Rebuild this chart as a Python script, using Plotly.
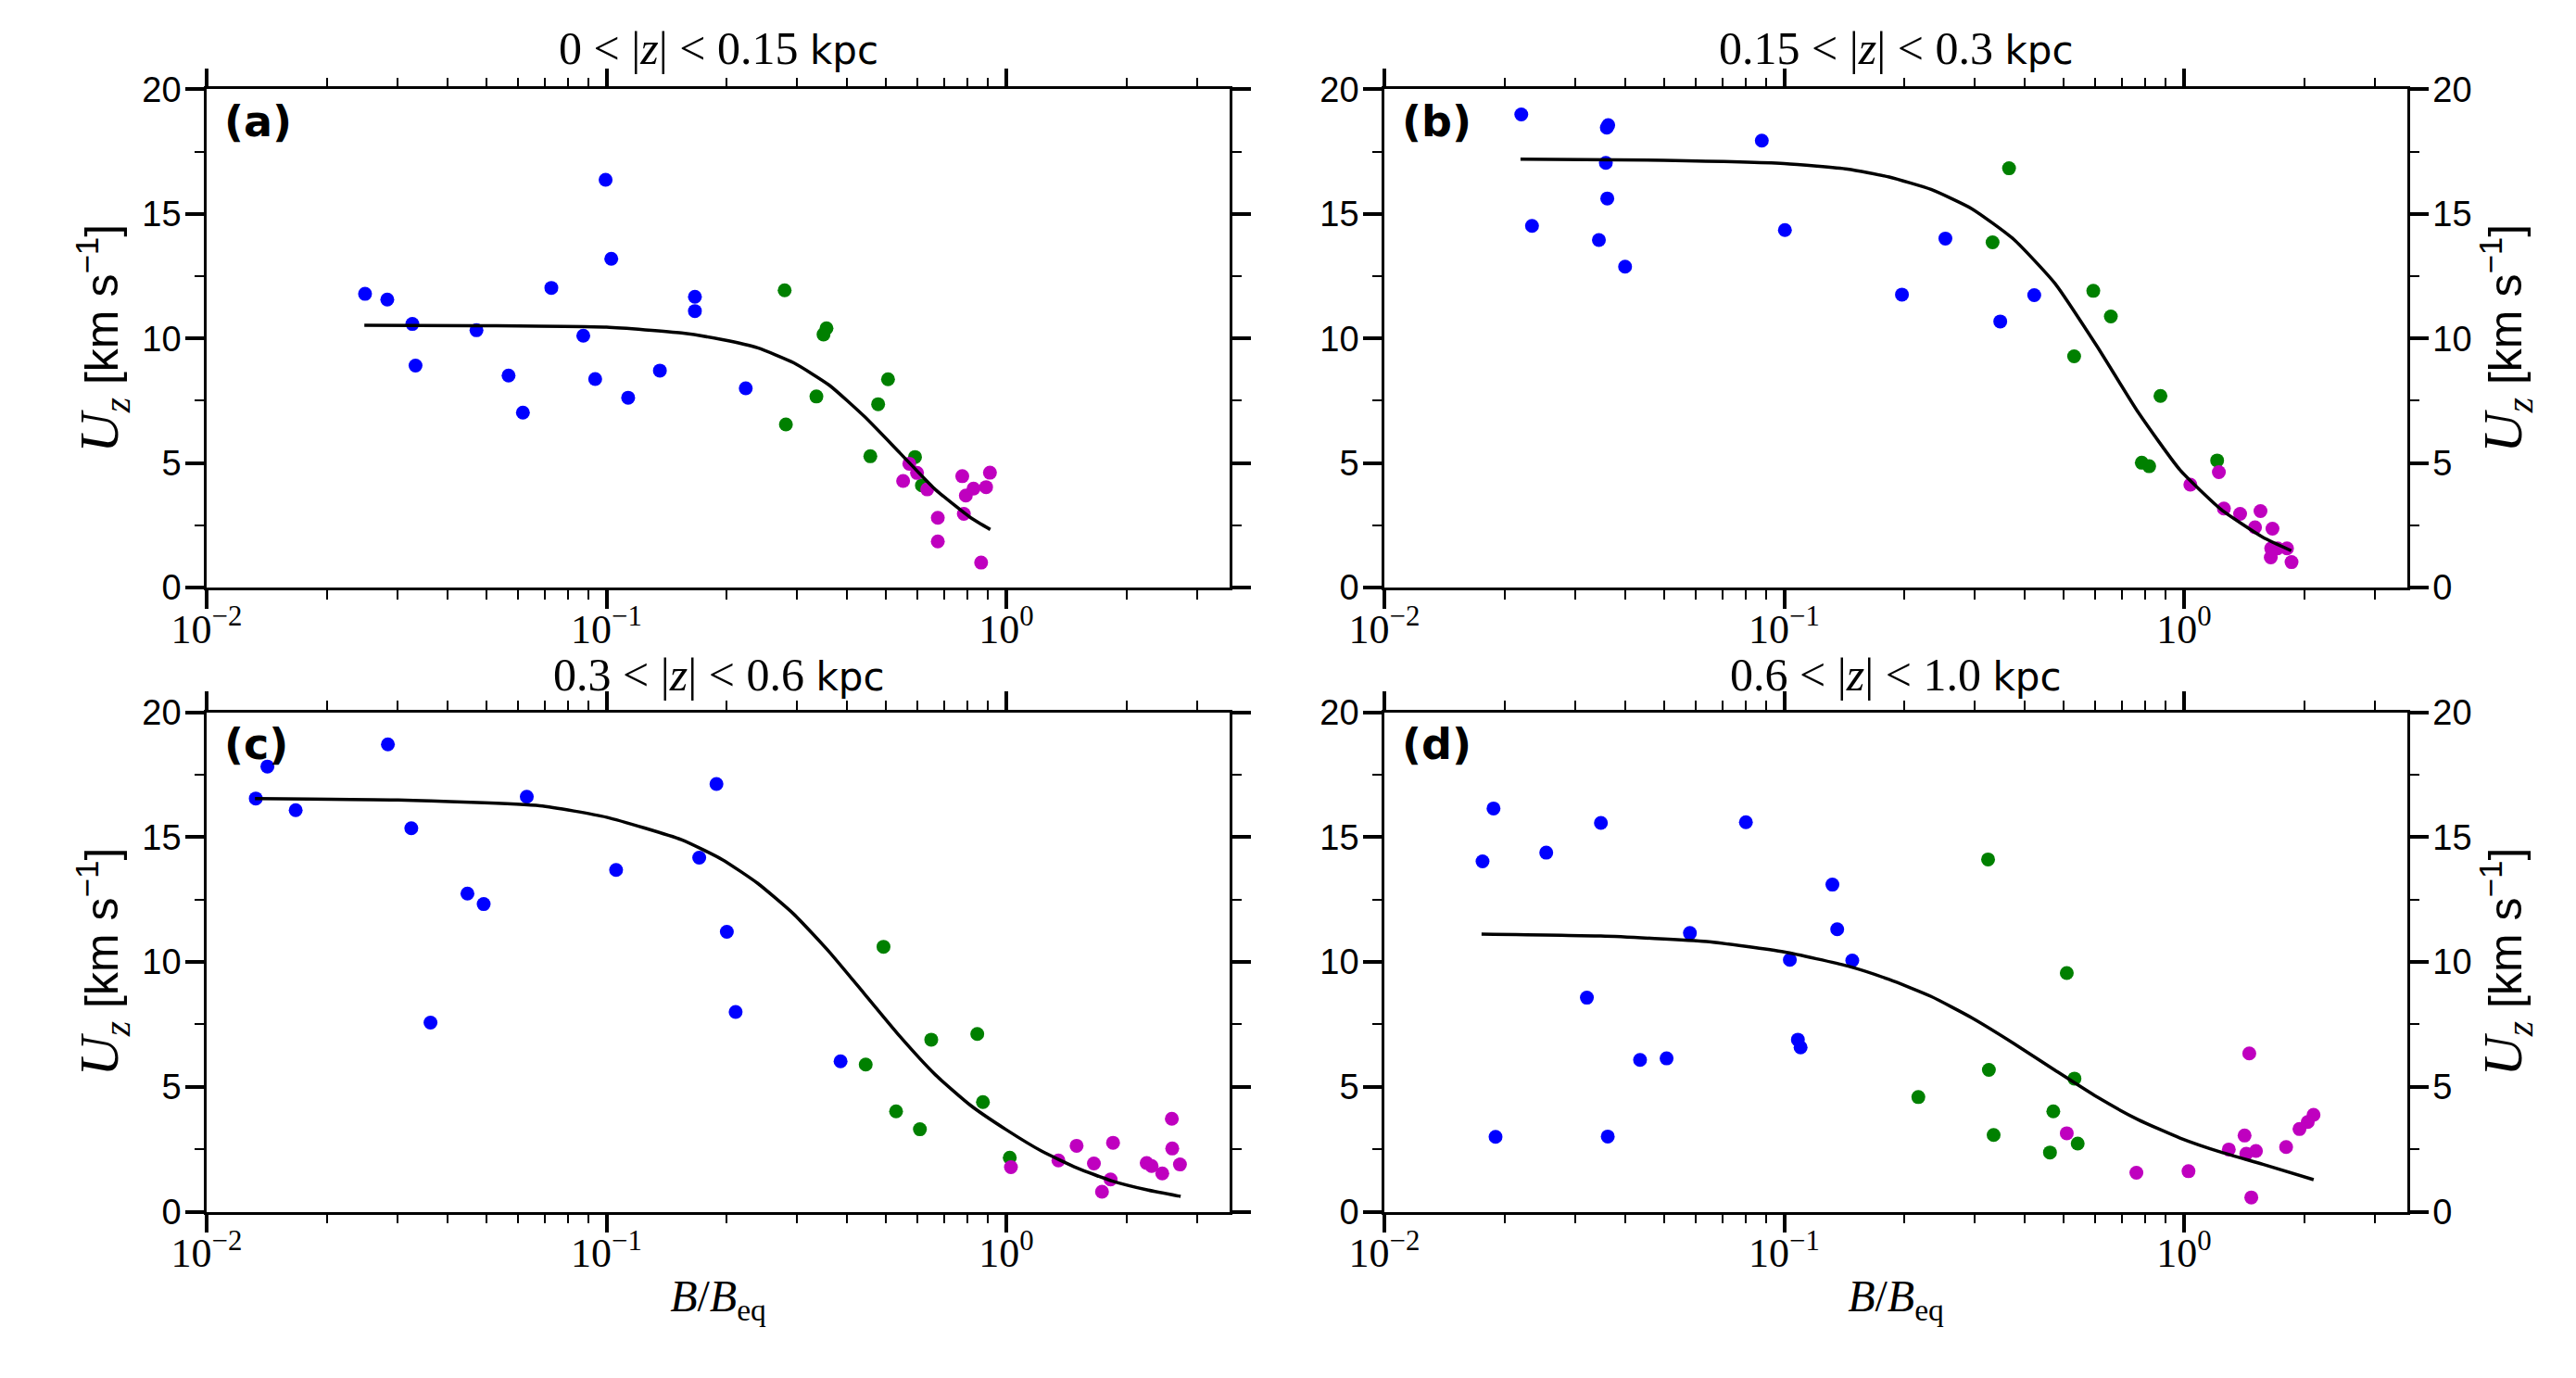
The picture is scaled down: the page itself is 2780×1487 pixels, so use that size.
import plotly.graph_objects as go

# ---------------- data ----------------
titles = ["0 &lt; |<i>z</i>| &lt; 0.15", "0.15 &lt; |<i>z</i>| &lt; 0.3",
          "0.3 &lt; |<i>z</i>| &lt; 0.6", "0.6 &lt; |<i>z</i>| &lt; 1.0"]
panel_tags = ["(a)", "(b)", "(c)", "(d)"]

a_blue_x = [0.0249, 0.0283, 0.0327, 0.0333, 0.0473, 0.0569, 0.0618, 0.0728, 0.0875, 0.0937, 0.0995, 0.1028, 0.1133, 0.136, 0.1664, 0.1664, 0.223]
a_blue_y = [11.79, 11.56, 10.58, 8.91, 10.33, 8.51, 7.02, 12.03, 10.11, 8.37, 16.37, 13.20, 7.62, 8.71, 11.67, 11.10, 8.0]
a_green_x = [0.279, 0.281, 0.335, 0.349, 0.355, 0.457, 0.478, 0.506, 0.591, 0.615]
a_green_y = [11.93, 6.55, 7.67, 10.16, 10.41, 5.27, 7.36, 8.36, 5.24, 4.10]
a_mag_x = [0.552, 0.572, 0.598, 0.634, 0.674, 0.674, 0.776, 0.783, 0.792, 0.828, 0.865, 0.890, 0.910]
a_mag_y = [4.28, 4.97, 4.60, 3.94, 2.80, 1.85, 4.47, 2.96, 3.69, 3.97, 1.00, 4.03, 4.61]
a_fit_x = [0.0248, 0.05, 0.1, 0.154, 0.195, 0.239, 0.294, 0.361, 0.442, 0.542, 0.665, 0.815, 0.912]
a_fit_y = [10.53, 10.51, 10.45, 10.22, 9.95, 9.62, 9.02, 8.12, 6.86, 5.40, 3.93, 2.80, 2.33]

b_blue_x = [0.0220, 0.0234, 0.0344, 0.0358, 0.0360, 0.0363, 0.0361, 0.040, 0.0879, 0.1004, 0.197, 0.253, 0.347, 0.422]
b_blue_y = [18.99, 14.52, 13.95, 17.05, 18.46, 18.56, 15.62, 12.88, 17.94, 14.35, 11.76, 14.01, 10.68, 11.74]
b_green_x = [0.332, 0.365, 0.531, 0.593, 0.656, 0.784, 0.818, 0.873, 1.21]
b_green_y = [13.86, 16.83, 9.28, 11.91, 10.88, 5.01, 4.87, 7.69, 5.10]
b_mag_x = [1.037, 1.222, 1.258, 1.381, 1.553, 1.505, 1.664, 1.652, 1.713, 1.648, 1.809, 1.857]
b_mag_y = [4.13, 4.63, 3.17, 2.96, 3.07, 2.42, 2.36, 1.57, 1.57, 1.21, 1.57, 1.02]
b_fit_x = [0.0219, 0.05, 0.1, 0.144, 0.183, 0.233, 0.295, 0.375, 0.476, 0.605, 0.769, 0.977, 1.239, 1.574, 1.854]
b_fit_y = [17.20, 17.15, 17.02, 16.8, 16.48, 15.98, 15.20, 13.98, 12.20, 9.70, 7.02, 4.72, 3.13, 2.02, 1.48]

c_blue_x = [0.01327, 0.01419, 0.0167, 0.0284, 0.0325, 0.0363, 0.0449, 0.0493, 0.0632, 0.1057, 0.1706, 0.1884, 0.200, 0.2104, 0.385]
c_blue_y = [16.55, 17.83, 16.08, 18.72, 15.36, 7.57, 12.74, 12.32, 16.62, 13.69, 14.18, 17.13, 11.21, 8.00, 6.02]
c_green_x = [0.445, 0.493, 0.530, 0.608, 0.649, 0.846, 0.874, 1.02]
c_green_y = [5.89, 10.61, 4.02, 3.30, 6.89, 7.12, 4.39, 2.16]
c_mag_x = [1.027, 1.350, 1.499, 1.656, 1.735, 1.823, 1.849, 2.244, 2.309, 2.455, 2.594, 2.600, 2.718]
c_mag_y = [1.78, 2.05, 2.64, 1.93, 0.80, 1.29, 2.76, 1.95, 1.83, 1.53, 3.72, 2.53, 1.89]
c_fit_x = [0.01321, 0.0301, 0.0681, 0.1, 0.154, 0.195, 0.239, 0.294, 0.361, 0.442, 0.542, 0.665, 0.815, 1.0, 1.227, 1.503, 1.845, 2.265, 2.729]
c_fit_y = [16.55, 16.49, 16.26, 15.80, 14.90, 14.10, 13.15, 11.92, 10.40, 8.72, 7.02, 5.48, 4.25, 3.28, 2.42, 1.75, 1.22, 0.86, 0.61]

d_blue_x = [0.0176, 0.01875, 0.01897, 0.0254, 0.0321, 0.0348, 0.0362, 0.0436, 0.0508, 0.0581, 0.0802, 0.1033, 0.1082, 0.1099, 0.132, 0.1357, 0.148]
d_blue_y = [14.03, 16.15, 3.00, 14.38, 8.57, 15.57, 3.01, 6.08, 6.14, 11.16, 15.60, 10.09, 6.89, 6.58, 13.10, 11.31, 10.06]
d_green_x = [0.2165, 0.3235, 0.325, 0.334, 0.462, 0.471, 0.509, 0.532, 0.542]
d_green_y = [4.59, 14.11, 5.68, 3.07, 2.37, 4.02, 9.56, 5.33, 2.73]
d_mag_x = [0.509, 0.760, 1.026, 1.294, 1.417, 1.431, 1.456, 1.473, 1.513, 1.800, 1.944, 2.039, 2.108]
d_mag_y = [3.14, 1.56, 1.62, 2.49, 3.05, 2.32, 6.34, 0.57, 2.43, 2.59, 3.31, 3.59, 3.88]
d_fit_x = [0.0175, 0.0348, 0.064, 0.1, 0.144, 0.183, 0.233, 0.295, 0.375, 0.476, 0.605, 0.769, 0.977, 1.239, 1.574, 2.109]
d_fit_y = [11.12, 11.04, 10.82, 10.40, 9.84, 9.30, 8.62, 7.76, 6.74, 5.66, 4.60, 3.68, 2.95, 2.38, 1.90, 1.28]

x_tickvals = [0.01, 0.1, 1]
x_ticktext = ["10<sup>\u22122</sup>", "10<sup>\u22121</sup>", "10<sup>0</sup>"]
x_minor = [0.02, 0.03, 0.04, 0.05, 0.06, 0.07, 0.08, 0.09,
           0.2, 0.3, 0.4, 0.5, 0.6, 0.7, 0.8, 0.9, 2, 3]
y_tickvals = [0, 5, 10, 15, 20]
y_minor = [2.5, 7.5, 12.5, 17.5]

# ---------------- styling ----------------
W, H = 2780, 1487
BLUE, GREEN, MAG = "#0000ff", "#008000", "#bf00bf"
SERIF = "Liberation Serif"
SANS = "Liberation Sans"

col_px = [(223, 1327), (1494, 2598)]
row_px = [(96.4, 634), (768.7, 1307.5)]
def xdom(c):
    return [col_px[c][0] / W, col_px[c][1] / W]
def ydom(r):
    return [1 - row_px[r][1] / H, 1 - row_px[r][0] / H]

ytitle = ('<span style="font-family:%s;font-size:60px"><i>U</i><sub><i>z</i></sub></span> '
          '[km s<sup>\u22121</sup>]' % SERIF)
xtitle = '<i>B</i>/<i>B</i><sub>eq</sub>'

panels = [
    (a_blue_x, a_blue_y, a_green_x, a_green_y, a_mag_x, a_mag_y, a_fit_x, a_fit_y),
    (b_blue_x, b_blue_y, b_green_x, b_green_y, b_mag_x, b_mag_y, b_fit_x, b_fit_y),
    (c_blue_x, c_blue_y, c_green_x, c_green_y, c_mag_x, c_mag_y, c_fit_x, c_fit_y),
    (d_blue_x, d_blue_y, d_green_x, d_green_y, d_mag_x, d_mag_y, d_fit_x, d_fit_y),
]

fig = go.Figure()
for i, (bx, by, gx, gy, mx, my, fx, fy) in enumerate(panels):
    xa = "x" if i == 0 else "x%d" % (i + 1)
    ya = "y" if i == 0 else "y%d" % (i + 1)
    for xs, ys, col in ((bx, by, BLUE), (gx, gy, GREEN), (mx, my, MAG)):
        fig.add_trace(go.Scatter(x=xs, y=ys, mode="markers", xaxis=xa, yaxis=ya,
                                 marker=dict(color=col, size=15, line=dict(width=0)),
                                 showlegend=False))
    fig.add_trace(go.Scatter(x=fx, y=fy, mode="lines", xaxis=xa, yaxis=ya,
                             line=dict(color="black", width=3.5, shape="spline", smoothing=0.5),
                             showlegend=False))

common_x = dict(type="log", range=[-2, 0.5585], showline=True, linecolor="black", linewidth=2.5,
                mirror="ticks", ticks="outside", ticklen=20, tickwidth=4, tickcolor="black",
                tickmode="array", tickvals=x_tickvals, ticktext=x_ticktext,
                tickfont=dict(family=SERIF, size=44, color="black"), ticklabelstandoff=-16,
                minor=dict(tickmode="array", tickvals=x_minor, ticks="outside", ticklen=10,
                           tickwidth=2, tickcolor="black"),
                showgrid=False, zeroline=False, automargin=False)
common_y = dict(range=[0, 20], showline=True, linecolor="black", linewidth=2.5,
                mirror="ticks", ticks="outside", ticklen=20, tickwidth=4, tickcolor="black",
                tickmode="array", tickvals=y_tickvals, ticklabelstandoff=-3,
                tickfont=dict(family=SANS, size=38, color="black"),
                minor=dict(tickmode="array", tickvals=y_minor, ticks="outside", ticklen=10,
                           tickwidth=2, tickcolor="black"),
                showgrid=False, zeroline=False, automargin=False)

layout = dict(width=W, height=H, margin=dict(l=0, r=0, t=0, b=0, pad=0), autosize=False,
              plot_bgcolor="white", paper_bgcolor="white",
              font=dict(family=SANS, color="black"), showlegend=False)

for i in range(4):
    r, c = divmod(i, 2)
    xk = "xaxis" if i == 0 else "xaxis%d" % (i + 1)
    yk = "yaxis" if i == 0 else "yaxis%d" % (i + 1)
    xa = "x" if i == 0 else "x%d" % (i + 1)
    ya = "y" if i == 0 else "y%d" % (i + 1)
    xd = dict(common_x, domain=xdom(c), anchor=ya)
    if r == 1:
        xd["title"] = dict(text=xtitle, font=dict(family=SERIF, size=48, color="black"), standoff=6)
    yd = dict(common_y, domain=ydom(r), anchor=xa)
    if c == 0:
        yd["title"] = dict(text=ytitle, font=dict(family=SANS, size=50, color="black"), standoff=10)
    layout[xk] = xd
    layout[yk] = yd

# right-side labelled axes for panels (b) and (d)
for k, base in ((5, 2), (6, 4)):
    layout["yaxis%d" % k] = dict(common_y, overlaying="y%d" % base, side="right",
                                 anchor="x%d" % base, mirror=False,
                                 title=dict(text=ytitle, font=dict(family=SANS, size=50, color="black"),
                                            standoff=10))
for k, base in ((5, 2), (6, 4)):
    fig.add_trace(go.Scatter(x=[0.1], y=[10], xaxis="x%d" % base, yaxis="y%d" % k,
                             mode="markers", marker=dict(opacity=0), hoverinfo="skip",
                             showlegend=False))

annotations = []
for i in range(4):
    r, c = divmod(i, 2)
    xd, yd = xdom(c), ydom(r)
    cx = (xd[0] + xd[1]) / 2
    cy = 1 - (52 + 676 * r) / H
    annotations.append(dict(xref="paper", yref="paper", x=cx, y=cy, xanchor="center", yanchor="middle",
                            showarrow=False,
                            text=titles[i] + ' <span style="font-family:DejaVu Sans;font-size:42px">kpc</span>',
                            font=dict(family=SERIF, size=50, color="black")))
    xa = "x" if i == 0 else "x%d" % (i + 1)
    ya = "y" if i == 0 else "y%d" % (i + 1)
    annotations.append(dict(xref=xa + " domain", yref=ya + " domain", x=0.015, y=0.99,
                            xanchor="left", yanchor="top", showarrow=False,
                            text="<b>%s</b>" % panel_tags[i],
                            font=dict(family="DejaVu Sans", size=46, color="black")))
layout["annotations"] = annotations

fig.update_layout(**layout)
fig.write_html("out.html")
